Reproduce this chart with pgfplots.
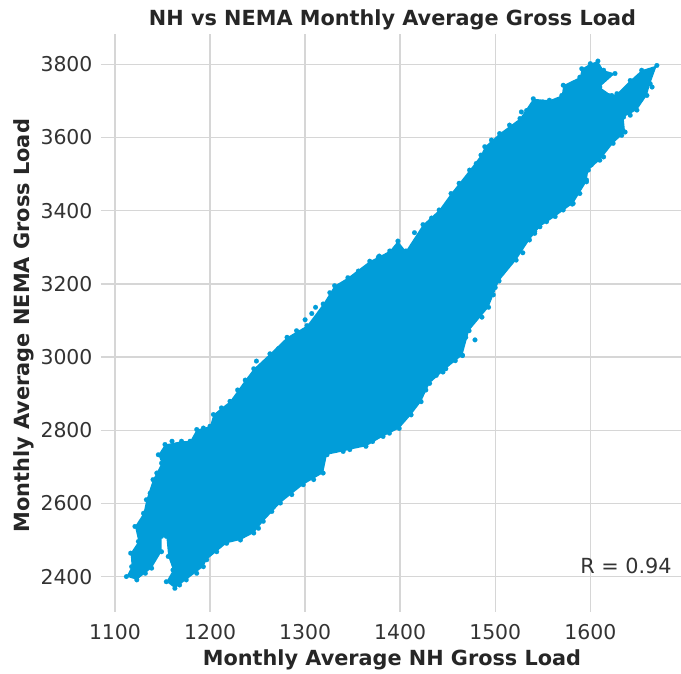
\documentclass[border=0pt]{standalone}
\usepackage{pgfplots}
\usepackage{pgfplotstable}
\pgfplotsset{compat=1.18}
\usepackage{fontspec}
\setmainfont{DejaVu Sans}
\definecolor{dot}{HTML}{019DD9}
\definecolor{gridc}{HTML}{D6D6D6}
\definecolor{tickc}{HTML}{333333}
\definecolor{labc}{HTML}{262626}
\pgfplotstableread{
x y
1112 2400
1117.5 2427
1116.5 2464
1124.6 2496
1121 2537
1130 2573
1133 2610
1140 2665
1149 2710
1145.6 2733
1152.6 2761
1170 2770
1179 2770
1186 2802
1200 2811
1203.5 2843
1221 2879
1237 2937
1246 2968
1263 3009
1281 3054
1302 3086
1319 3145
1331 3195
1345 3217
1368 3262
1389 3290
1397.6 3317
1406 3290
1424 3362
1441 3402
1453.5 3447
1473 3511
1485 3552
1489 3575
1504.6 3611
1526 3652
1540 3706
1557 3702
1570 3715
1571.5 3743
1589 3765
1591 3788
1600 3802
1608 3809
1614 3784
1626 3775
1610 3738
1622.5 3715
1628 3720
1642 3756
1654 3784
1670 3797
1663 3747
1659.5 3715
1649 3675
1635 3656
1636.6 3615
1624 3584
1610 3538
1598 3511
1596 3479
1582 3420
1563 3384
1547 3356
1536 3320
1522 3265
1504 3208
1493 3136
1472.5 3072
1465.5 3005
1448 2968
1431 2928
1422 2878
1411.5 2842
1399 2805
1382 2783
1364 2756
1347 2747
1340 2742
1323 2733
1319 2683
1298 2651
1274 2601
1256 2551
1246 2519
1232 2500
1217.5 2491
1196.5 2446
1193 2427
1175 2391
1163 2368
1154 2386
1161 2418
1156 2455
1154 2510
1149 2510
1149 2468
1138.6 2423
1123 2391
}\outline
\pgfplotstableread{
x y
1527.5 3670
1596 3484
1581 3418
1642 3661
1633 3606
1619 3715
1541.5 3343
1529 3285
1665 3738
1478.7 3047
1465.5 3004
1300 3102
1307 3119
1311 3136
1248.8 2989
1401 3285
1377 3273
1445 2959
1420 2891
1229 2910
1255 2977
1272 3023
1291 3072
1326 3176
1356 3235
1378 3276
1486 3109
1469 3054
1438 2950
1427 2910
1388.7 2792
1371 2769
1126 2519
1137 2628
1144 2683
1160 2770
1193 2806
1212 2861
1309 2665
1286 2624
1265 2578
1251 2532
1207 2468
1186 2409
1168 2377
1132 2409
1462 3475
1480 3529
1496 3593
1515 3634
1533 3674
1550 3697
1614 3547
1601 3525
1589 3447
1571.5 3402
1554 3370
1541.5 3338
1415 3340
1433 3380
1498 3170
1500 3190
1458 2990
}\extra
\begin{document}
\begin{tikzpicture}
\useasboundingbox (-101pt,-61.3pt) rectangle (580pt,611.7pt);
\begin{axis}[
  at={(0pt,0pt)}, anchor=south west,
  scale only axis, width=580pt, height=577.7pt,
  xmin=1085.3, xmax=1695.4, ymin=2304, ymax=3883,
  xtick={1100,1200,1300,1400,1500,1600},
  ytick={2400,2600,2800,3000,3200,3400,3600,3800},
  /pgf/number format/assume math mode=true,
  /pgf/number format/set thousands separator={},
  grid=major,
  grid style={gridc, line width=1.4pt},
  axis line style={draw=none},
  major tick length=0pt,
  tick label style={font=\fontsize{20.4}{24}\selectfont, text=tickc},
  xticklabel style={yshift=-9pt},
  yticklabel style={xshift=-5pt},
  title={NH vs NEMA Monthly Average Gross Load},
  title style={font=\fontsize{20.8}{24}\selectfont\bfseries, text=labc, at={(0.5,1)}, anchor=south, yshift=-6pt, xshift=1.5pt},
  xlabel={Monthly Average NH Gross Load},
  xlabel style={font=\fontsize{20.8}{24}\selectfont\bfseries, text=labc, yshift=-3pt, xshift=1pt},
  ylabel={Monthly Average NEMA Gross Load},
  ylabel style={font=\fontsize{20.9}{24}\selectfont\bfseries, text=labc, yshift=0pt, xshift=-3pt},
  clip=false,
]
\addplot[draw=none, fill=dot, forget plot] table[x=x,y=y] {\outline} -- cycle;
\addplot[only marks, mark=*, mark size=2.4pt, mark options={fill=dot, draw=dot, line width=0.1pt}, forget plot] table[x=x,y=y] {\outline};
\addplot[only marks, mark=*, mark size=2.4pt, mark options={fill=dot, draw=dot, line width=0.1pt}, forget plot] table[x=x,y=y] {\extra};
\node[anchor=east, font=\fontsize{20.8}{24}\selectfont, text=tickc] at (rel axis cs:0.99,0.079) {R = 0.94};
\end{axis}
\end{tikzpicture}
\end{document}
